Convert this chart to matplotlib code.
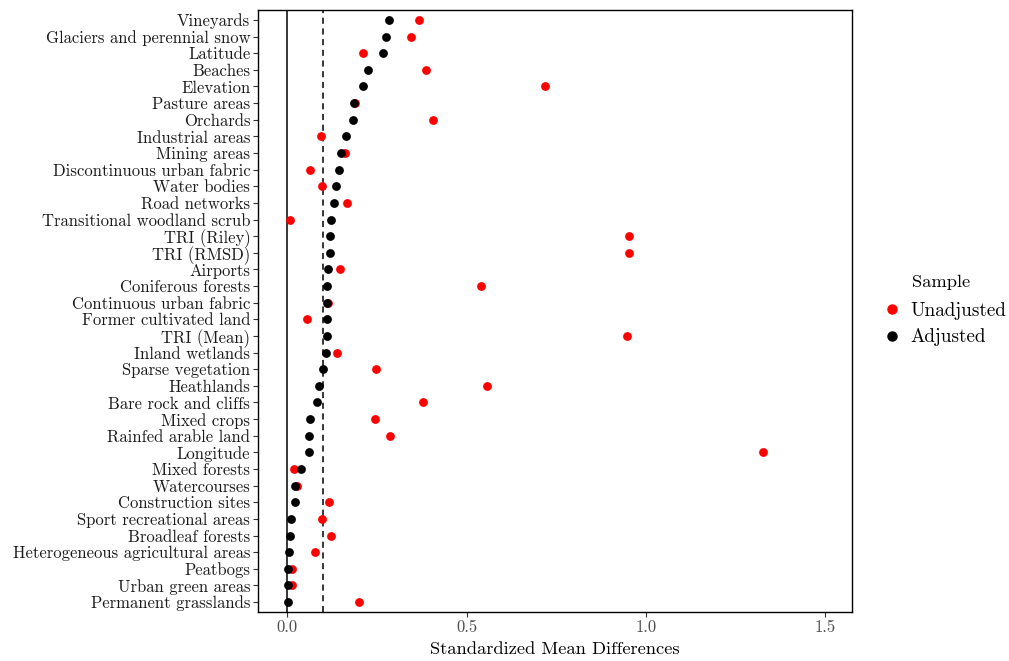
import matplotlib
matplotlib.use("Agg")
import matplotlib.pyplot as plt
from matplotlib.lines import Line2D

plt.rcParams['font.family'] = ['cmr10', 'DejaVu Serif']
plt.rcParams['mathtext.fontset'] = 'cm'
plt.rcParams['axes.formatter.use_mathtext'] = True

covariates = [
    "Vineyards", "Glaciers and perennial snow", "Latitude", "Beaches", "Elevation",
    "Pasture areas", "Orchards", "Industrial areas", "Mining areas",
    "Discontinuous urban fabric", "Water bodies", "Road networks",
    "Transitional woodland scrub", "TRI (Riley)", "TRI (RMSD)", "Airports",
    "Coniferous forests", "Continuous urban fabric", "Former cultivated land",
    "TRI (Mean)", "Inland wetlands", "Sparse vegetation", "Heathlands",
    "Bare rock and cliffs", "Mixed crops", "Rainfed arable land", "Longitude",
    "Mixed forests", "Watercourses", "Construction sites",
    "Sport recreational areas", "Broadleaf forests",
    "Heterogeneous agricultural areas", "Peatbogs", "Urban green areas",
    "Permanent grasslands",
]

unadjusted = [
    0.367, 0.345, 0.212, 0.386, 0.718,
    0.190, 0.407, 0.095, 0.162,
    0.064, 0.097, 0.166,
    0.007, 0.952, 0.952, 0.147,
    0.540, 0.114, 0.056,
    0.946, 0.140, 0.247, 0.556,
    0.379, 0.244, 0.287, 1.327,
    0.019, 0.029, 0.117,
    0.096, 0.121,
    0.077, 0.013, 0.013,
    0.201,
]

adjusted = [
    0.283, 0.275, 0.267, 0.226, 0.212,
    0.187, 0.184, 0.164, 0.150,
    0.144, 0.136, 0.131,
    0.121, 0.119, 0.119, 0.114,
    0.112, 0.112, 0.110,
    0.110, 0.109, 0.101, 0.088,
    0.083, 0.065, 0.061, 0.060,
    0.040, 0.023, 0.022,
    0.010, 0.007,
    0.006, 0.003, 0.003,
    0.002,
]

threshold = 0.1
legend_title = "Sample"
legend_labels = ["Unadjusted", "Adjusted"]

fig = plt.figure(figsize=(10.09, 6.61), dpi=100)
ax = fig.add_axes([258/1009, 1-612/661, (852-258)/1009, (612-10)/661])

ypos = list(range(len(covariates)))
ax.axvline(0, color='black', lw=1.1, zorder=1)
ax.axvline(threshold, color='black', lw=1.1, ls=(0, (4, 3)), zorder=1)

ax.scatter(unadjusted, ypos, s=40, color='#ff0000', zorder=2, linewidths=0)
ax.scatter(adjusted, ypos, s=40, color='black', zorder=3, linewidths=0)

ax.set_ylim(len(covariates) - 1 + 0.6, -0.6)
ax.set_xlim(-0.081, 1.574)
ax.set_yticks(ypos)
ax.set_yticklabels(covariates, fontsize=12)
ax.set_xticks([0.0, 0.5, 1.0, 1.5])
ax.set_xticklabels(["0.0", "0.5", "1.0", "1.5"], fontsize=12, color='#4d4d4d')
ax.tick_params(axis='both', length=3.5, width=0.8, color='#333333', pad=2)
ax.tick_params(axis='y', labelcolor='#1a1a1a')
ax.set_xlabel("Standardized Mean Differences", fontsize=13.3, labelpad=5)
for sp in ax.spines.values():
    sp.set_linewidth(1.0)
    sp.set_color('black')

handles = [
    Line2D([], [], marker='o', ls='', color='#ff0000', markersize=6.5),
    Line2D([], [], marker='o', ls='', color='black', markersize=6.5),
]
fig.text(912/1009, 1-282/661, legend_title, fontsize=13.3, ha='left', va='center')
leg = fig.legend(handles, legend_labels,
                 loc='center left', bbox_to_anchor=(880/1009, 1-324/661),
                 frameon=False, fontsize=13.8,
                 handletextpad=0.4, labelspacing=0.45, handlelength=1.2,
                 borderaxespad=0, borderpad=0)

fig.savefig("out.png", dpi=100)
